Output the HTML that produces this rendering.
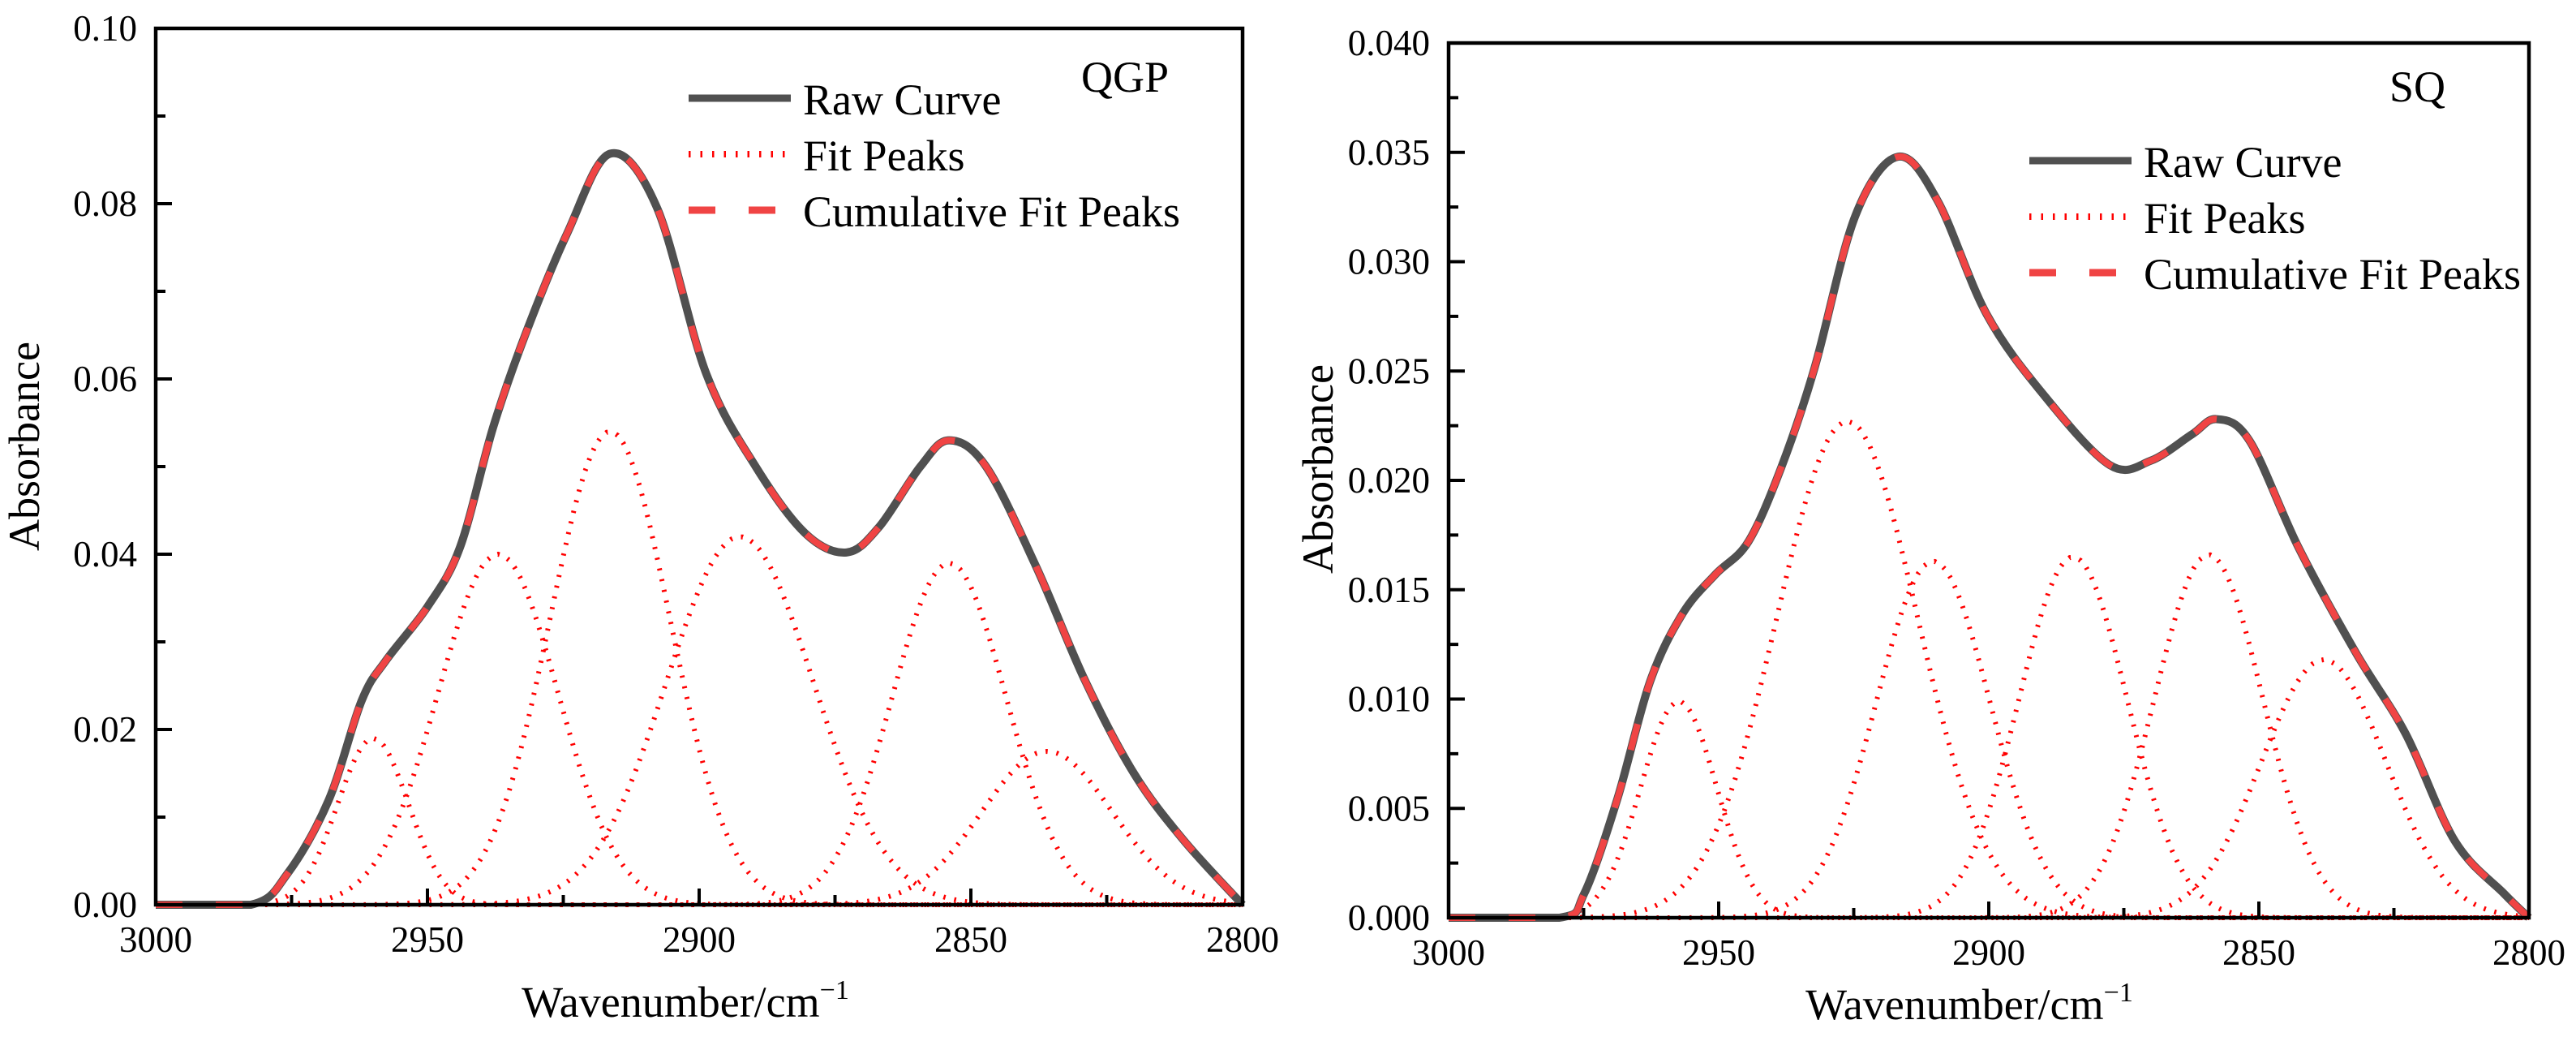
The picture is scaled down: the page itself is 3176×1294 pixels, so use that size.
<!DOCTYPE html>
<html><head><meta charset="utf-8"><style>
html,body{margin:0;padding:0;background:#fff;}
svg text{font-family:"Liberation Serif","Times New Roman",serif;fill:#000;}
</style></head><body>
<svg id="fig" width="3176" height="1289" viewBox="0 0 3176 1289" xmlns="http://www.w3.org/2000/svg" font-family="Liberation Serif, serif"></svg>
<script>
// ---- QGP data ----
const qgpRawX=[3000,2982.5,2975.7,2968.2,2962.1,2957.6,2950,2944,2937.9,2931.9,2924.3,2916.4,2907.8,2898.7,2889.6,2880.5,2872.9,2866.9,2859.3,2854,2847.2,2838,2829,2820,2810.9,2800];
const qgpRawY=[0,0,0.0036,0.0119,0.0233,0.0279,0.034,0.0408,0.0545,0.0652,0.0766,0.0857,0.0796,0.0606,0.050,0.0424,0.0402,0.0431,0.050,0.053,0.050,0.0386,0.0256,0.015,0.0074,0];
const qgpPeakCenters=[2960,2937,2916.4,2892.5,2854,2836];
const qgpPeakAmps=[0.019,0.040,0.054,0.042,0.039,0.0175];
const qgpPeakWidths=[6.5,11,11,13.5,10.5,12];
const qgpYTicks=["0.00","0.02","0.04","0.06","0.08","0.10"];
// ---- SQ data ----
const sqRawX=[3000,2979.5,2974.9,2968.8,2962.7,2956.7,2950.6,2944.5,2938.4,2932.3,2924.7,2916.8,2909.5,2900.4,2889.8,2877.6,2870,2862.4,2857.8,2851.7,2842.6,2832,2822.8,2813.7,2804.6,2800];
const sqRawY=[0,0,0.0011,0.0054,0.0108,0.0139,0.0157,0.0172,0.0206,0.0251,0.0321,0.0348,0.0328,0.0276,0.0239,0.0207,0.0209,0.0221,0.0228,0.0218,0.0169,0.0121,0.0084,0.0035,0.0011,0];
const sqPeakCenters=[2957.4,2926.2,2910.3,2884.4,2859.3,2838];
const sqPeakAmps=[0.0099,0.0227,0.0163,0.0165,0.0166,0.0118];
const sqPeakWidths=[7,13,10.5,10,10,11.5];
const sqYTicks=["0.000","0.005","0.010","0.015","0.020","0.025","0.030","0.035","0.040"];
const xTicks=["3000","2950","2900","2850","2800"];

const NS="http://www.w3.org/2000/svg";
const svg=document.getElementById('fig');
function mk(tag,attrs,parent){const e=document.createElementNS(NS,tag);for(const k in attrs)e.setAttribute(k,attrs[k]);if(tag==='text')e.setAttribute('font-family','Liberation Serif, serif');(parent||svg).appendChild(e);return e;}
function smooth(pts,B){const cl=y=>Math.min(y,B);let d=`M${pts[0][0]},${pts[0][1]}`;for(let i=0;i<pts.length-1;i++){const p0=pts[Math.max(0,i-1)],p1=pts[i],p2=pts[i+1],p3=pts[Math.min(pts.length-1,i+2)];
const c1=[p1[0]+(p2[0]-p0[0])/6,cl(p1[1]+(p2[1]-p0[1])/6)],c2=[p2[0]-(p3[0]-p1[0])/6,cl(p2[1]-(p3[1]-p1[1])/6)];d+=` C${c1[0]},${c1[1]} ${c2[0]},${c2[1]} ${p2[0]},${p2[1]}`;}return d;}

function chart(o){
  const g=mk('g',{});
  
  
  const sx=v=>o.L+(3000-v)/200*(o.R-o.L);
  const sy=v=>o.B-v/o.ymax*(o.B-o.T);
  o.centers.forEach((c,i)=>{const pts=[];for(let w=3000;w>=2800;w-=1){pts.push([sx(w),sy(o.amps[i]*Math.exp(-Math.pow(w-c,2)/(2*o.widths[i]*o.widths[i])))]);}
    const p=mk('path',{d:'M'+pts.map(p=>p[0].toFixed(1)+','+p[1].toFixed(1)).join(' L'),fill:'none',stroke:'#ff0000','stroke-width':6,'stroke-dasharray':'2.5 11'},g);
    
    });
  const pts=o.rx.map((x,i)=>[sx(x),sy(o.ry[i])]);
  const raw=mk('path',{d:smooth(pts,o.B),fill:'none',stroke:'#505050','stroke-width':10},g);
  
  
  const cum=mk('path',{d:smooth(pts,o.B),fill:'none',stroke:'#f04444','stroke-width':8,'stroke-dasharray':'33 41'},g);
  
  
  const fr=mk('rect',{x:o.L,y:o.T,width:o.R-o.L,height:o.B-o.T,fill:'none',stroke:'#000','stroke-width':4.5},g);
  
  
  xTicks.forEach((t,i)=>{const v=+t,x=sx(v);mk('line',{x1:x,x2:x,y1:o.B,y2:o.B-20,stroke:'#000','stroke-width':4},g);
    if(i<xTicks.length-1){const xm=sx(v-25);mk('line',{x1:xm,x2:xm,y1:o.B,y2:o.B-12,stroke:'#000','stroke-width':4},g);}
    const tx=mk('text',{x:x,y:o.B+58,'font-size':45,'text-anchor':'middle'},g);tx.textContent=t;
    
    });
  o.yt.forEach((t,i)=>{const v=+t,y=sy(v);mk('line',{x1:o.L,x2:o.L+20,y1:y,y2:y,stroke:'#000','stroke-width':4},g);
    if(i<o.yt.length-1){const ym=sy(v+o.ystep/2);mk('line',{x1:o.L,x2:o.L+12,y1:ym,y2:ym,stroke:'#000','stroke-width':4},g);}
    const tx=mk('text',{x:o.L-23,y:y+15,'font-size':45,'text-anchor':'end'},g);tx.textContent=t;
    
    });
  const xt=mk('text',{x:o.xtx,y:o.xty,'font-size':54,'text-anchor':'middle'},g);
  xt.innerHTML='Wavenumber/cm<tspan dy="-22" font-size="34">−1</tspan>';
  
  
  const yt=mk('text',{x:0,y:0,'font-size':54,'text-anchor':'middle',transform:`translate(${o.ytx},${o.yty}) rotate(-90)`},g);
  yt.textContent='Absorbance';
  
  
  const lb=mk('text',{x:o.labx,y:o.laby,'font-size':54},g);lb.textContent=o.label;
  
  
  const lg=mk('g',{},g);
  
  
  const lx=o.lgx,ly=o.lgy;
  mk('line',{x1:lx,x2:lx+126,y1:ly,y2:ly,stroke:'#505050','stroke-width':9},lg);
  mk('line',{x1:lx,x2:lx+126,y1:ly+69,y2:ly+69,stroke:'#ff0000','stroke-width':8,'stroke-dasharray':'2.5 12'},lg);
  mk('line',{x1:lx,x2:lx+126,y1:ly+138,y2:ly+138,stroke:'#f04444','stroke-width':9,'stroke-dasharray':'33 41'},lg);
  ['Raw Curve','Fit Peaks','Cumulative Fit Peaks'].forEach((s,i)=>{const t=mk('text',{x:lx+141,y:ly+20+69*i,'font-size':54},lg);t.textContent=s;
    
    });
}
chart({name:'qgp-chart',L:192,R:1532,T:35,B:1115,ymax:0.10,ystep:0.02,yt:qgpYTicks,rx:qgpRawX,ry:qgpRawY,centers:qgpPeakCenters,amps:qgpPeakAmps,widths:qgpPeakWidths,
  xtx:845,xty:1253,ytx:48,yty:550,label:'QGP',labx:1333,laby:113,lgx:849,lgy:121});
chart({name:'sq-chart',L:1786,R:3118,T:53,B:1131,ymax:0.04,ystep:0.005,yt:sqYTicks,rx:sqRawX,ry:sqRawY,centers:sqPeakCenters,amps:sqPeakAmps,widths:sqPeakWidths,
  xtx:2428,xty:1256,ytx:1643,yty:578,label:'SQ',labx:2946,laby:125,lgx:2502,lgy:198});
</script>
</body></html>
